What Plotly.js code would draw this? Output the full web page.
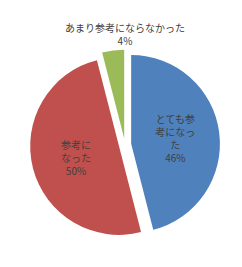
<!DOCTYPE html>
<html><head><meta charset="utf-8">
<script src="https://cdn.plot.ly/plotly-3.0.1.min.js"></script>
<style>html,body{margin:0;padding:0;background:#fff}#chart{width:242px;height:267px}</style>
</head><body><div id="chart"></div>
<script>
const categories = ["とても参考になった", "参考になった", "あまり参考にならなかった"];
const displayLabels = ["とても参<br>考になっ<br>た", "参考に<br>なった", "あまり参考にならなかった"];
const values = [46, 50, 4];
const colors = ["#4F81BD", "#C0504D", "#9BBB59"];

const total = values.reduce((a, b) => a + b, 0);
const smallIdx = 2;
const trace = {
  type: "pie",
  labels: categories,
  values: values,
  customdata: displayLabels,
  sort: false,
  direction: "clockwise",
  rotation: 0,
  pull: [0.07, 0.07, 0.07],
  marker: {colors: colors, line: {width: 0}},
  texttemplate: values.map((v, i) => i === smallIdx ? "" : "%{customdata}<br>%{percent:.0%}"),
  textposition: "inside",
  insidetextorientation: "horizontal",
  textfont: {family: "Noto Sans CJK JP", size: 10, color: "#404040"},
  title: {
    text: categories[smallIdx] + "<br>" + Math.round(values[smallIdx] / total * 100) + "%",
    position: "top center",
    font: {family: "Noto Sans CJK JP", size: 10, color: "#404040"}
  },
  hoverinfo: "none",
  showlegend: false,
  domain: {x: [0.124, 0.909], y: [0.097, 0.925]}
};
Plotly.newPlot("chart", [trace], {
  width: 242, height: 267,
  margin: {l: 0, r: 0, t: 0, b: 0},
  paper_bgcolor: "#fff",
  showlegend: false
}, {staticPlot: true});
</script></body></html>
